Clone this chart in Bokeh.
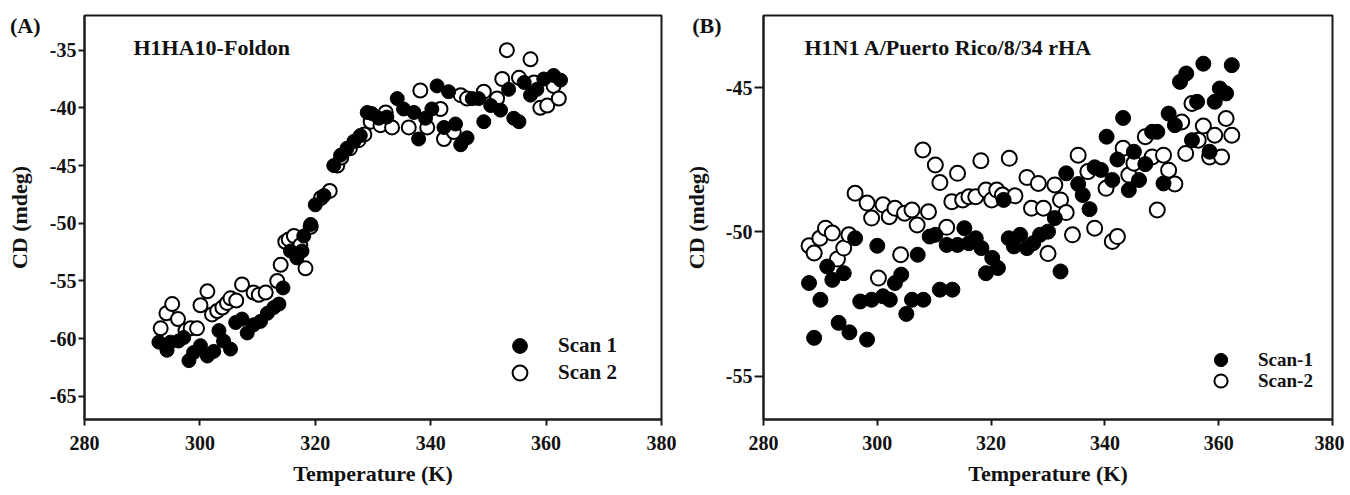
from bokeh.plotting import figure
from bokeh.layouts import row
from bokeh.models import (Legend, LegendItem, Label, FixedTicker, ColumnDataSource,
                          Range1d, LinearAxis)
from bokeh.embed import file_html
from bokeh.resources import INLINE

FONT = "Liberation Serif"

# ---------------- data ----------------
# Panel A: H1HA10-Foldon
a_scan1_T = [292.9, 294.3, 294.9, 296.3, 297.2, 298.1, 298.9, 300.1, 301.3, 302.4, 303.3, 304.1,
             305.3, 306.2, 307.3, 308.2, 309.3, 310.5, 311.7, 312.8, 313.7, 314.4, 315.7, 316.8,
             317.7, 318.0, 319.2, 320.0, 321.5, 323.2, 324.4, 325.5, 326.7, 327.8, 329.0, 329.8,
             331.0, 332.4, 334.2, 335.3, 337.1, 337.9, 339.1, 340.2, 341.1, 342.3, 343.1, 344.3,
             345.2, 346.3, 347.2, 348.3, 349.2, 350.4, 352.1, 353.5, 354.4, 355.3, 356.2, 357.3,
             358.4, 359.6, 361.3, 362.5]
a_scan1_CD = [-60.3, -61.0, -60.3, -60.2, -59.9, -61.9, -61.2, -60.6, -61.5, -61.1, -59.3, -60.2,
              -60.9, -58.6, -58.3, -59.5, -58.8, -58.5, -57.8, -57.3, -57.0, -55.6, -52.4, -53.0,
              -52.4, -51.1, -50.1, -48.4, -47.6, -45.0, -44.1, -43.5, -42.9, -42.4, -40.4, -40.5,
              -40.9, -40.8, -39.2, -40.1, -40.4, -42.7, -40.9, -40.1, -38.1, -41.7, -38.6, -41.4,
              -43.2, -42.6, -39.2, -39.2, -41.2, -39.8, -40.2, -38.4, -40.9, -41.2, -37.8, -38.9,
              -38.4, -37.5, -37.2, -37.6]
a_scan2_T = [293.2, 294.2, 295.2, 296.2, 297.5, 298.4, 299.5, 300.1, 301.3, 302.1, 303.0, 303.9,
             304.7, 305.3, 306.3, 307.3, 309.3, 310.2, 311.4, 313.4, 314.0, 314.8, 315.4, 316.3,
             317.4, 318.3, 319.2, 321.0, 322.5, 323.8, 324.5, 326.0, 327.5, 328.5, 329.6, 331.3,
             332.2, 333.3, 336.2, 338.2, 339.4, 341.7, 342.3, 344.0, 345.2, 346.3, 349.2, 351.5,
             352.4, 353.2, 355.3, 357.3, 357.9, 359.0, 360.2, 361.3, 362.2]
a_scan2_CD = [-59.1, -57.8, -57.0, -58.3, -59.3, -59.1, -59.1, -57.1, -55.9, -57.9, -57.6, -57.3,
              -56.9, -56.5, -56.7, -55.3, -56.0, -56.2, -56.0, -55.0, -53.6, -51.6, -51.4, -51.1,
              -51.9, -53.9, -50.3, -47.8, -47.2, -45.0, -44.3, -43.5, -42.8, -42.3, -41.2, -41.5,
              -40.4, -41.7, -41.7, -38.5, -41.7, -40.1, -42.7, -42.1, -38.9, -39.2, -38.6, -39.2,
              -37.5, -35.0, -37.4, -35.8, -37.8, -40.0, -39.8, -38.1, -39.2]

# Panel B: H1N1 A/Puerto Rico/8/34 rHA
b_scan1_T = [288.0, 288.9, 290.0, 291.2, 292.1, 293.2, 294.1, 295.1, 296.1, 297.0, 298.2, 299.0,
             300.0, 301.0, 302.2, 303.1, 304.2, 305.1, 306.1, 307.1, 308.1, 309.2, 310.2, 311.0,
             312.2, 313.2, 314.1, 315.3, 316.1, 317.3, 318.3, 319.1, 320.2, 321.2, 322.2, 323.1,
             324.0, 325.1, 326.3, 327.4, 328.6, 330.0, 331.2, 332.2, 333.2, 335.3, 336.1, 337.3,
             338.2, 339.3, 340.3, 341.3, 342.2, 343.2, 344.2, 345.1, 346.0, 347.1, 348.3, 349.2,
             350.3, 351.2, 352.3, 353.2, 354.3, 355.3, 356.2, 357.3, 358.4, 359.3, 360.2, 361.3,
             362.3]
b_scan1_CD = [-51.77, -53.67, -52.35, -51.2, -51.66, -53.15, -51.43, -53.48, -50.22, -52.41, -53.73, -52.35,
              -50.48, -52.23, -52.35, -51.77, -51.48, -52.84, -52.35, -50.79, -52.35, -50.16, -50.1, -52.0,
              -50.45, -52.0, -50.45, -49.87, -50.39, -50.22, -50.56, -51.43, -50.9, -51.25, -48.89, -50.22,
              -50.5, -50.1, -50.56, -50.39, -50.1, -49.99, -49.52, -51.37, -47.97, -48.34, -48.72, -49.21,
              -47.76, -47.85, -46.70, -48.2, -47.49, -46.05, -48.55, -47.22, -48.2, -47.65, -46.53, -46.53,
              -48.32, -45.9, -46.3, -44.8, -44.51, -46.82, -45.49, -44.17, -47.22, -45.49, -45.03, -45.2,
              -44.22]
b_scan2_T = [288.0, 288.9, 289.9, 290.9, 292.1, 293.0, 294.1, 295.0, 296.1, 298.2, 299.0, 300.2,
             301.0, 302.1, 303.1, 304.1, 304.8, 306.1, 307.0, 308.0, 309.0, 310.2, 311.0, 312.2,
             313.1, 314.1, 315.0, 316.1, 317.3, 318.2, 319.1, 320.1, 321.0, 322.0, 323.2, 324.2,
             326.3, 327.1, 328.3, 329.2, 330.0, 331.2, 332.2, 333.2, 334.3, 335.3, 337.0, 338.2,
             340.2, 341.3, 342.2, 343.2, 344.2, 345.1, 347.1, 348.3, 349.2, 350.3, 351.2, 352.3,
             353.5, 354.2, 355.3, 356.4, 357.3, 358.4, 359.3, 360.5, 361.3, 362.3]
b_scan2_CD = [-50.48, -50.73, -50.22, -49.87, -50.04, -50.94, -50.56, -50.1, -48.66, -49.0, -49.52, -51.6,
              -49.06, -49.47, -49.18, -50.79, -49.35, -49.24, -49.76, -47.16, -49.3, -47.68, -48.29, -49.84,
              -48.95, -47.97, -48.89, -48.78, -48.78, -47.53, -48.55, -48.89, -48.55, -48.72, -47.45, -48.75,
              -48.11, -49.18, -48.32, -49.18, -50.75, -48.37, -48.89, -49.33, -50.1, -47.34, -47.91, -49.87,
              -48.49, -50.33, -50.16, -47.1, -48.03, -47.62, -46.7, -47.4, -49.24, -47.34, -47.86, -48.34,
              -46.19, -47.28, -45.55, -46.82, -46.33, -47.4, -46.65, -47.4, -46.07, -46.65]

x_ticks = [280, 300, 320, 340, 360, 380]
a_y_ticks = [-65, -60, -55, -50, -45, -40, -35]
b_y_ticks = [-55, -50, -45]

a_labels = ["Scan 1", "Scan 2"]
b_labels = ["Scan-1", "Scan-2"]
a_title = "H1HA10-Foldon"
b_title = "H1N1 A/Puerto Rico/8/34 rHA"
x_label = "Temperature (K)"
y_label = "CD (mdeg)"

FRAME_H = 404
INK = "#111111"


def make_panel(width, bl, br, yr, yt, tick_out,
               s1T, s1CD, s2T, s2CD, labels, title, title_dx,
               tag, tag_y, tag_standoff, ylab_standoff,
               msize, leg_x, leg_y1, leg_y2, leg_glyph, leg_standoff, leg_font):
    p = figure(width=width, height=493, output_backend="svg", toolbar_location=None,
               x_range=Range1d(280, 380), y_range=Range1d(*yr),
               min_border_left=bl, min_border_right=br, min_border_top=15, min_border_bottom=74)
    p.title.visible = False
    p.grid.visible = False
    p.outline_line_color = "#1a1a1a"
    p.outline_line_width = 2
    p.background_fill_color = "white"
    p.border_fill_color = "white"

    for ax, ticks in ((p.xaxis[0], x_ticks), (p.yaxis[0], yt)):
        ax.ticker = FixedTicker(ticks=ticks)
        ax.major_label_overrides = {t: str(t) for t in ticks}
        ax.axis_line_width = 2
        ax.axis_line_color = "#1a1a1a"
        ax.major_tick_line_width = 2
        ax.major_tick_line_color = "#1a1a1a"
        ax.major_tick_in = 0
        ax.minor_tick_line_color = None
        ax.major_label_text_font = FONT
        ax.major_label_text_font_style = "bold"
        ax.major_label_text_font_size = "20px"
        ax.major_label_text_color = INK
        ax.axis_label_text_font = FONT
        ax.axis_label_text_font_style = "bold"
        ax.axis_label_text_font_size = "22px"
        ax.axis_label_text_color = INK

    p.xaxis[0].major_tick_out = 6
    p.xaxis[0].major_label_standoff = 10
    p.xaxis[0].axis_label = x_label
    p.xaxis[0].axis_label_standoff = 8
    p.yaxis[0].major_tick_out = tick_out
    p.yaxis[0].major_label_standoff = 2

    # outer left axis: carries the panel tag "(A)"/"(B)" as its single tick label
    # and the y-axis title "CD (mdeg)"
    outer = LinearAxis(ticker=FixedTicker(ticks=[tag_y]),
                       major_label_overrides={tag_y: tag},
                       axis_line_color=None, major_tick_line_color=None,
                       minor_tick_line_color=None, major_tick_out=0, major_tick_in=0,
                       major_label_standoff=tag_standoff, major_label_text_font=FONT,
                       major_label_text_font_style="bold",
                       major_label_text_font_size="22px", major_label_text_color=INK,
                       axis_label=y_label, axis_label_standoff=ylab_standoff,
                       axis_label_text_font=FONT, axis_label_text_font_style="bold",
                       axis_label_text_font_size="22px", axis_label_text_color=INK)
    p.add_layout(outer, "left")

    src2 = ColumnDataSource(dict(x=s2T, y=s2CD))
    src1 = ColumnDataSource(dict(x=s1T, y=s1CD))
    r2 = p.scatter("x", "y", source=src2, size=msize, marker="circle",
                   fill_color="white", line_color="black", line_width=2)
    r1 = p.scatter("x", "y", source=src1, size=msize, marker="circle",
                   fill_color="black", line_color="black", line_width=1)

    for lab, rend, ly in ((labels[0], r1, leg_y1), (labels[1], r2, leg_y2)):
        legend = Legend(items=[LegendItem(label=lab, renderers=[rend])],
                        location=(leg_x, ly), padding=0, margin=0, spacing=0,
                        glyph_width=leg_glyph, glyph_height=leg_glyph, label_height=leg_glyph,
                        label_standoff=leg_standoff,
                        border_line_alpha=0, background_fill_alpha=0,
                        label_text_font=FONT, label_text_font_style="bold",
                        label_text_font_size=leg_font, label_text_color=INK)
        p.add_layout(legend)

    p.add_layout(Label(x=title_dx, y=FRAME_H - 32, x_units="screen", y_units="screen",
                       text=title, text_font=FONT, text_font_style="bold",
                       text_font_size="22px", text_color=INK,
                       text_baseline="alphabetic"))
    return p


pA = make_panel(681, 84, 20, (-67, -32), a_y_ticks, 6,
                a_scan1_T, a_scan1_CD, a_scan2_T, a_scan2_CD, a_labels, a_title, 49,
                "(A)", -32.87, 6, -25,
                14, 417, 55, 28, 37, 20, "21px")
pB = make_panel(663, 76, 12, (-56.5, -42.5), b_y_ticks, 9,
                b_scan1_T, b_scan1_CD, b_scan2_T, b_scan2_CD, b_labels, b_title, 41,
                "(B)", -42.85, 1, -20,
                15, 441, 43, 22, 33, 21, "19px")

layout = row(pA, pB, spacing=0)
open("out.html", "w").write(file_html(layout, INLINE))
